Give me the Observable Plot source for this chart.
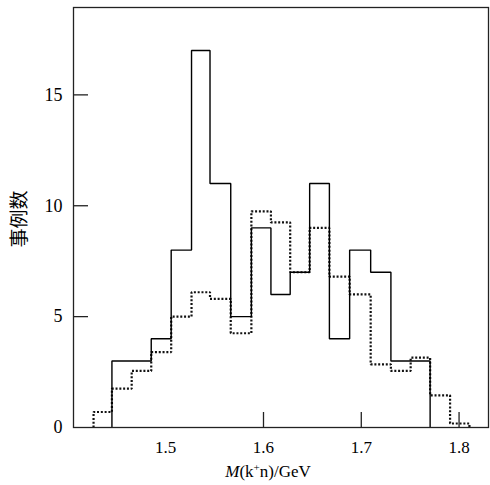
<!DOCTYPE html>
<html>
<head>
<meta charset="utf-8">
<script src="https://cdn.jsdelivr.net/npm/d3@7"></script>
<script src="https://cdn.jsdelivr.net/npm/@observablehq/plot@0.6"></script>
<style>
  html, body { margin: 0; padding: 0; background: white; }
</style>
</head>
<body>
<div id="chart"></div>
<script>
// Bin edges of the mass histogram, M(k+n) in GeV
const binEdges = [1.4262, 1.4450, 1.4652, 1.4852, 1.5056, 1.5264, 1.5453, 1.5665, 1.5876, 1.6076,
                  1.6273, 1.6472, 1.6674, 1.6881, 1.7096, 1.7303, 1.7505, 1.7704, 1.7908, 1.8106];
// Solid histogram (events), occupies bins 1..16
const solidFirstBin = 1;
const solidCounts = [3, 3, 4, 8, 17, 11, 5, 9, 6, 7, 11, 4, 8, 7, 3, 3];
// Dotted histogram, occupies bins 0..18
const dottedFirstBin = 0;
const dottedCounts = [0.7, 1.75, 2.55, 3.4, 5.0, 6.1, 5.8, 4.25, 9.75, 9.25, 7.0, 9.0, 6.8, 6.0, 2.85, 2.55, 3.15, 1.45, 0.18];
// Axis ticks and labels
const xTickLabels = [1.5, 1.6, 1.7, 1.8];
const xTickMarks = [1.6, 1.7, 1.8];
const yTickLabels = [0, 5, 10, 15];
const yTickMarks = [5, 10, 15];
const xDomain = [1.4057, 1.8301];
const yDomain = [0, 18.94];
const yTitle = "事例数";

function outline(first, counts) {
  const pts = [{x: binEdges[first], y: 0}];
  counts.forEach((v, i) => pts.push({x: binEdges[first + i], y: v}));
  pts.push({x: binEdges[first + counts.length], y: 0});
  return pts;
}

const chart = Plot.plot({
  width: 490,
  height: 485,
  marginLeft: 73,
  marginRight: 2,
  marginTop: 7,
  marginBottom: 58,
  style: {fontFamily: "'Liberation Serif', 'Times New Roman', serif", fontSize: "18px", background: "white", color: "black"},
  x: {domain: xDomain, label: null},
  y: {domain: yDomain, label: null},
  marks: [
    Plot.line(outline(dottedFirstBin, dottedCounts), {x: "x", y: "y", curve: "step-after", stroke: "#111", strokeWidth: 2.2, strokeDasharray: "2,1.8", strokeLinecap: "butt", strokeLinejoin: "miter"}),
    Plot.line(outline(solidFirstBin, solidCounts), {x: "x", y: "y", curve: "step-after", stroke: "black", strokeWidth: 1.4, strokeLinecap: "butt", strokeLinejoin: "miter"}),
    Plot.frame({stroke: "#222", strokeWidth: 1.3}),
    Plot.axisX(xTickMarks, {tickSize: -15, fill: "none", stroke: "#222", strokeWidth: 1.3}),
    Plot.axisX(xTickLabels, {tickSize: 0, tickPadding: 13, fontSize: 17, tickFormat: d3.format(".1f"), label: null}),
    Plot.axisY(yTickMarks, {tickSize: -15, fill: "none", stroke: "#222", strokeWidth: 1.3}),
    Plot.axisY(yTickLabels, {tickSize: 0, tickPadding: 11, label: null})
  ]
});

const svg = d3.select(chart);
// x-axis title with italic M and superscript +
const xt = svg.append("text")
  .attr("x", 268).attr("y", 477)
  .attr("text-anchor", "middle")
  .attr("font-family", "'Liberation Serif', 'Times New Roman', serif")
  .attr("font-size", 17)
  .attr("fill", "#000");
xt.append("tspan").attr("font-style", "italic").text("M");
xt.append("tspan").text("(k");
xt.append("tspan").attr("font-size", 11).attr("dy", -6).text("+");
xt.append("tspan").attr("dy", 6).text("n)/GeV");
// y-axis title, rotated
svg.append("text")
  .attr("transform", "translate(17,219) rotate(-90)")
  .attr("text-anchor", "middle")
  .attr("dominant-baseline", "central")
  .attr("font-family", "'Noto Sans CJK SC', sans-serif")
  .attr("font-size", 19)
  .attr("fill", "#000")
  .text(yTitle);

document.getElementById("chart").appendChild(chart);
</script>
</body>
</html>
